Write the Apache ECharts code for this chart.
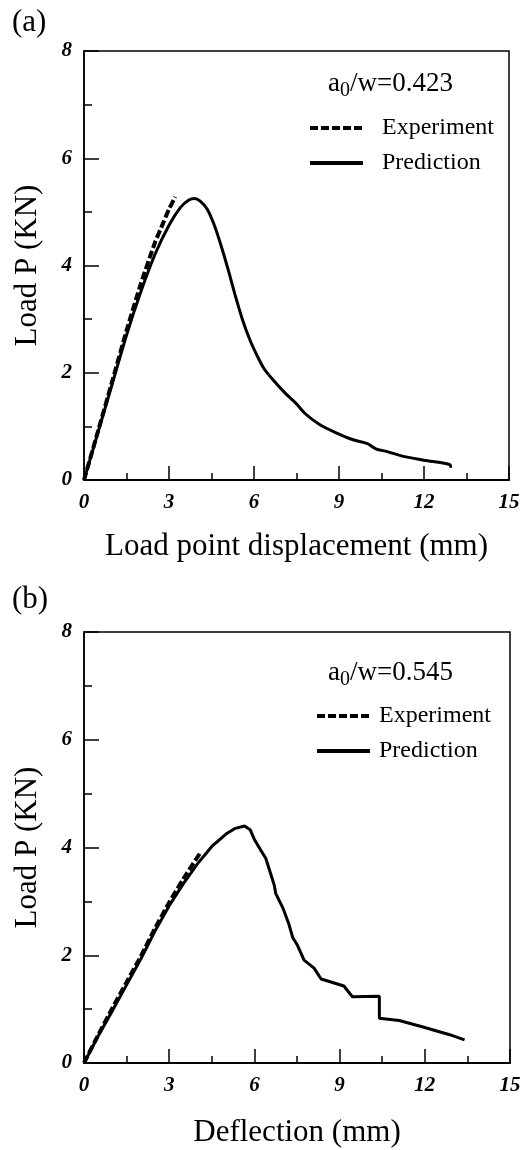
<!DOCTYPE html>
<html>
<head>
<meta charset="utf-8">
<script src="https://cdn.jsdelivr.net/npm/echarts@6/dist/echarts.min.js"></script>
<style>
html,body{margin:0;padding:0;background:#fff;}
#chart{width:529px;height:1150px;}
</style>
</head>
<body>
<div id="chart"></div>
<script>
// ---- data ----
const xTicksMax = 15, yTicksMax = 8;
const seriesNames = ['Experiment', 'Prediction'];
const panelLabels = ['(a)', '(b)'];
const ratioLabels = ['0.423', '0.545'];
const xAxisTitles = ['Load point displacement (mm)', 'Deflection (mm)'];
const yAxisTitle = 'Load P (KN)';

const expA = [[0,0],[0.5,0.92],[1,1.85],[1.5,2.78],[2,3.65],[2.5,4.42],[2.8,4.8],[3.0,5.05],[3.22,5.28]];
const predA = [[0,0],[0.5,0.9],[1,1.8],[1.5,2.7],[2,3.5],[2.5,4.2],[3,4.75],[3.4,5.08],[3.7,5.22],[3.9,5.25],
  [4.1,5.2],[4.35,5.05],[4.6,4.75],[4.85,4.35],[5.1,3.9],[5.35,3.42],[5.6,2.98],[5.85,2.62],[6.1,2.33],
  [6.35,2.08],[6.7,1.85],[7.1,1.62],[7.5,1.42],[7.8,1.24],[8.3,1.04],[8.9,0.88],[9.5,0.75],[10.0,0.68],
  [10.3,0.58],[10.7,0.53],[11.2,0.45],[12.0,0.37],[12.9,0.29],[12.95,0.23]];

const expB = [[0,0],[0.5,0.52],[1,1.02],[1.5,1.5],[2,1.98],[2.5,2.5],[3,2.98],[3.5,3.42],[4.08,3.89]];
const predB = [[0,0],[0.5,0.5],[1,0.97],[1.5,1.45],[2,1.93],[2.5,2.45],[3,2.92],[3.5,3.33],[4,3.7],
  [4.5,4.02],[5,4.25],[5.3,4.35],[5.65,4.4],[5.85,4.33],[6.0,4.15],[6.2,3.97],[6.4,3.8],[6.55,3.55],
  [6.7,3.3],[6.75,3.15],[7.0,2.88],[7.2,2.6],[7.35,2.33],[7.5,2.2],[7.75,1.91],[8.1,1.76],[8.35,1.56],
  [9.15,1.43],[9.45,1.23],[10.4,1.24],[10.4,0.83],[11.1,0.79],[12.0,0.66],[12.45,0.59],[12.85,0.53],[13.4,0.43]];

// ---- chart ----
const FONT = "'Liberation Serif', 'Times New Roman', serif";
const chart = echarts.init(document.getElementById('chart'), null, {renderer: 'canvas'});

function xAxisFor(i, nameGap) {
  return {
    type: 'value', gridIndex: i, min: 0, max: xTicksMax, interval: 3,
    name: xAxisTitles[i], nameLocation: 'middle', nameGap: nameGap,
    nameTextStyle: {fontFamily: FONT, fontSize: 31, color: '#000'},
    axisLine: {show: true, onZero: false, lineStyle: {color: '#000', width: 2}},
    axisTick: {show: true, inside: true, length: 14, lineStyle: {color: '#000', width: 1.5}},
    minorTick: {show: true, splitNumber: 2, length: 7, lineStyle: {color: '#000', width: 1.5}},
    axisLabel: {margin: 12, fontFamily: FONT, fontSize: 21, fontWeight: 'bold', fontStyle: 'italic', color: '#000'},
    splitLine: {show: false}
  };
}
function yAxisFor(i) {
  return {
    type: 'value', gridIndex: i, min: 0, max: yTicksMax, interval: 2,
    name: yAxisTitle, nameLocation: 'middle', nameGap: 41, nameRotate: 90,
    nameTextStyle: {fontFamily: FONT, fontSize: 31, color: '#000'},
    axisLine: {show: true, onZero: false, lineStyle: {color: '#000', width: 1.5}},
    axisTick: {show: true, inside: true, length: 15, lineStyle: {color: '#000', width: 1.5}},
    minorTick: {show: true, splitNumber: 2, length: 8, lineStyle: {color: '#000', width: 1.5}},
    axisLabel: {margin: 12, fontFamily: FONT, fontSize: 21, fontWeight: 'bold', fontStyle: 'italic', color: '#000'},
    splitLine: {show: false}
  };
}
function ratioTitle(i, left, top) {
  return {
    text: '{m|a}{s|0}{m|/w=' + ratioLabels[i] + '}',
    left: left, top: top, padding: 0,
    textStyle: {
      fontWeight: 'normal',
      rich: {
        m: {fontFamily: FONT, fontSize: 27, fontWeight: 'normal', color: '#000', lineHeight: 30, verticalAlign: 'top'},
        s: {fontFamily: FONT, fontSize: 20, fontWeight: 'normal', color: '#000', lineHeight: 42, verticalAlign: 'middle'}
      }
    }
  };
}
function legendFor(left, top, textPad) {
  return {
    orient: 'vertical', left: left, top: top, padding: 0,
    itemWidth: 53, itemHeight: 14, itemGap: 11,
    selectedMode: false, data: seriesNames,
    itemStyle: {opacity: 0},
    lineStyle: {width: 4},
    textStyle: {fontFamily: FONT, fontSize: 24, lineHeight: 24, color: '#000', padding: [0, 0, 0, textPad]}
  };
}
function lineSeries(name, data, xi, dashed, smooth) {
  return {
    type: 'line', name: name, data: data, xAxisIndex: xi, yAxisIndex: xi,
    symbol: 'none', showSymbol: false, smooth: smooth, animation: false,
    lineStyle: {color: '#000', width: dashed ? 4 : 3, type: dashed ? [8, 3] : 'solid'},
    itemStyle: {color: '#000'}
  };
}

const option = {
  backgroundColor: '#fff',
  animation: false,
  title: [
    {text: panelLabels[0], left: 12, top: 7, padding: 0, textStyle: {fontFamily: FONT, fontSize: 31, fontWeight: 'normal', color: '#000'}},
    {text: panelLabels[1], left: 12, top: 584, padding: 0, textStyle: {fontFamily: FONT, fontSize: 31, fontWeight: 'normal', color: '#000'}},
    ratioTitle(0, 328, 70),
    ratioTitle(1, 328, 659)
  ],
  legend: [legendFor(308, 116, 14), legendFor(315, 704, 4)],
  grid: [
    {left: 84, top: 51, width: 425, height: 429, show: true, borderColor: '#000', borderWidth: 1.5, containLabel: false},
    {left: 84, top: 632, width: 426, height: 431, show: true, borderColor: '#000', borderWidth: 1.5, containLabel: false}
  ],
  xAxis: [xAxisFor(0, 51), xAxisFor(1, 54)],
  yAxis: [yAxisFor(0), yAxisFor(1)],
  series: [
    lineSeries(seriesNames[0], expA, 0, true, 0.2),
    lineSeries(seriesNames[1], predA, 0, false, 0.3),
    lineSeries(seriesNames[0], expB, 1, true, 0.2),
    lineSeries(seriesNames[1], predB, 1, false, false)
  ]
};
chart.setOption(option);
</script>
</body>
</html>
